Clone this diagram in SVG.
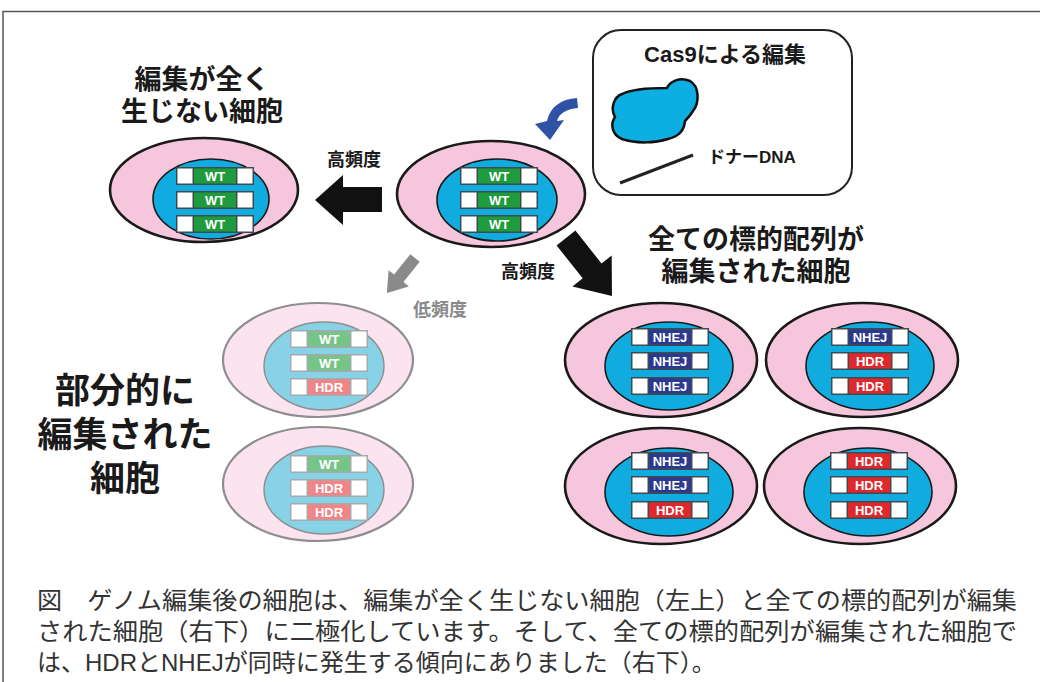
<svg xmlns="http://www.w3.org/2000/svg" xmlns:xlink="http://www.w3.org/1999/xlink" width="1040" height="682" viewBox="0 0 1040 682">
  <style>
    .frame{fill:none;stroke:#555;stroke-width:1.5}
    .outer{fill:#F6C6DC;stroke:#1a1a1a;stroke-width:2.6}
    .inner{fill:#10ACDF;stroke:#1a1a1a;stroke-width:1.6}
    .outer-f{fill:#FBE4EF;stroke:#8e8e8e;stroke-width:2.2}
    .inner-f{fill:#88D2E7;stroke:#8e8e8e;stroke-width:1.4}
    .rowbox{fill:#3e4b50}
    .rowbox-f{fill:#a3abae}
    .end{fill:#fff}
    .wt{fill:#1F9A3D}
    .wt-f{fill:#77C488}
    .hdr{fill:#E0282C}
    .hdr-f{fill:#EF8587}
    .nhej{fill:#2B3991}
    .tag{font-family:"Liberation Sans",Arial,sans-serif;font-weight:bold;font-size:13px;fill:#fff;text-anchor:middle}
    .head{font-family:"Liberation Sans","Noto Sans CJK JP",sans-serif;font-weight:bold;fill:#1a1a1a;text-anchor:middle}
    .small{font-family:"Liberation Sans","Noto Sans CJK JP",sans-serif;font-weight:bold;font-size:18px;text-anchor:middle}
    .caption{font-family:"Liberation Sans","Noto Sans CJK JP",sans-serif;font-size:24px;fill:#333}
  </style>
  <defs>
    <g id="row-wt">
      <rect class="rowbox" width="78" height="18"/>
      <rect class="end" x="1.5" y="1.5" width="15" height="15"/>
      <rect class="wt" x="18" y="1.5" width="42" height="15"/>
      <rect class="end" x="61.5" y="1.5" width="15" height="15"/>
      <text class="tag" x="39" y="14">WT</text>
    </g>
    <g id="row-wt-f">
      <rect class="rowbox-f" width="78" height="18"/>
      <rect class="end" x="1.5" y="1.5" width="15" height="15"/>
      <rect class="wt-f" x="18" y="1.5" width="42" height="15"/>
      <rect class="end" x="61.5" y="1.5" width="15" height="15"/>
      <text class="tag" x="39" y="14">WT</text>
    </g>
    <g id="row-hdr">
      <rect class="rowbox" width="78" height="18"/>
      <rect class="end" x="1.5" y="1.5" width="15" height="15"/>
      <rect class="hdr" x="18" y="1.5" width="42" height="15"/>
      <rect class="end" x="61.5" y="1.5" width="15" height="15"/>
      <text class="tag" x="39" y="14">HDR</text>
    </g>
    <g id="row-hdr-f">
      <rect class="rowbox-f" width="78" height="18"/>
      <rect class="end" x="1.5" y="1.5" width="15" height="15"/>
      <rect class="hdr-f" x="18" y="1.5" width="42" height="15"/>
      <rect class="end" x="61.5" y="1.5" width="15" height="15"/>
      <text class="tag" x="39" y="14">HDR</text>
    </g>
    <g id="row-nhej">
      <rect class="rowbox" width="78" height="18"/>
      <rect class="end" x="1.5" y="1.5" width="15" height="15"/>
      <rect class="nhej" x="18" y="1.5" width="42" height="15"/>
      <rect class="end" x="61.5" y="1.5" width="15" height="15"/>
      <text class="tag" x="39" y="14">NHEJ</text>
    </g>
  </defs>

  <!-- page frame -->
  <path class="frame" d="M3,682 V11.5 H1040"/>

  <!-- headings (multi-line, one text each) -->
  <text class="head" font-size="27" x="202" y="89">編集が全く<tspan x="202" dy="32">生じない細胞</tspan></text>
  <text class="head" font-size="27" x="756" y="249">全ての標的配列が<tspan x="756" dy="32">編集された細胞</tspan></text>
  <text class="head" font-size="35" x="125" y="403">部分的に<tspan x="125" dy="44">編集された</tspan><tspan x="125" dy="44">細胞</tspan></text>

  <!-- Cas9 legend -->
  <g id="legend">
    <rect x="593" y="30" width="259" height="165" rx="28" fill="#fff" stroke="#222" stroke-width="2"/>
    <text class="head" font-size="22" x="725" y="62">Cas9による編集</text>
    <path d="M615,117 C610,108 614,97 622,94 C632,89 652,88 667,88 C670,81 680,77 690,81 C699,86 700,102 693,111 C690,116 687,119 685,121 C684,130 680,136 668,139 C655,143 637,144 622,139 C612,135 610,124 615,117 Z" fill="#0DAEE2" stroke="#111" stroke-width="2.5"/>
    <line x1="620" y1="183" x2="693" y2="155" stroke="#222" stroke-width="3"/>
    <text x="708" y="163" font-family="Liberation Sans, Noto Sans CJK JP, sans-serif" font-weight="bold" font-size="17" fill="#1a1a1a">ドナーDNA</text>
  </g>

  <!-- cells -->
  <g id="cell-unedited">
    <ellipse class="outer" cx="204" cy="190" rx="94" ry="52"/>
    <ellipse class="inner" cx="211" cy="199" rx="58" ry="40"/>
    <use xlink:href="#row-wt" x="176" y="167"/>
    <use xlink:href="#row-wt" x="176" y="191"/>
    <use xlink:href="#row-wt" x="176" y="215"/>
  </g>
  <g id="cell-origin">
    <ellipse class="outer" cx="491" cy="194" rx="94" ry="53"/>
    <ellipse class="inner" cx="497" cy="200" rx="60" ry="41"/>
    <use xlink:href="#row-wt" x="460" y="167"/>
    <use xlink:href="#row-wt" x="460" y="191"/>
    <use xlink:href="#row-wt" x="460" y="215"/>
  </g>
  <g id="cell-partial-1">
    <ellipse class="outer-f" cx="318" cy="360" rx="95" ry="57"/>
    <ellipse class="inner-f" cx="324" cy="366" rx="60" ry="44"/>
    <use xlink:href="#row-wt-f" x="290" y="330"/>
    <use xlink:href="#row-wt-f" x="290" y="354"/>
    <use xlink:href="#row-hdr-f" x="290" y="378"/>
  </g>
  <g id="cell-partial-2">
    <ellipse class="outer-f" cx="318" cy="484" rx="95" ry="57"/>
    <ellipse class="inner-f" cx="324" cy="490" rx="60" ry="44"/>
    <use xlink:href="#row-wt-f" x="290" y="455"/>
    <use xlink:href="#row-hdr-f" x="290" y="479"/>
    <use xlink:href="#row-hdr-f" x="290" y="503"/>
  </g>
  <g id="cell-edited-1">
    <ellipse class="outer" cx="661" cy="360" rx="96" ry="57"/>
    <ellipse class="inner" cx="669" cy="366" rx="64" ry="44"/>
    <use xlink:href="#row-nhej" x="631" y="328"/>
    <use xlink:href="#row-nhej" x="631" y="352"/>
    <use xlink:href="#row-nhej" x="631" y="377"/>
  </g>
  <g id="cell-edited-2">
    <ellipse class="outer" cx="862" cy="360" rx="96" ry="57"/>
    <ellipse class="inner" cx="870" cy="366" rx="64" ry="44"/>
    <use xlink:href="#row-nhej" x="831" y="328"/>
    <use xlink:href="#row-hdr" x="831" y="352"/>
    <use xlink:href="#row-hdr" x="831" y="377"/>
  </g>
  <g id="cell-edited-3">
    <ellipse class="outer" cx="661" cy="486" rx="96" ry="58"/>
    <ellipse class="inner" cx="669" cy="492" rx="64" ry="44"/>
    <use xlink:href="#row-nhej" x="631" y="452"/>
    <use xlink:href="#row-nhej" x="631" y="476"/>
    <use xlink:href="#row-hdr" x="631" y="501"/>
  </g>
  <g id="cell-edited-4">
    <ellipse class="outer" cx="860" cy="486" rx="96" ry="58"/>
    <ellipse class="inner" cx="868" cy="492" rx="64" ry="44"/>
    <use xlink:href="#row-hdr" x="830" y="452"/>
    <use xlink:href="#row-hdr" x="830" y="476"/>
    <use xlink:href="#row-hdr" x="830" y="501"/>
  </g>

  <!-- connectors -->
  <g id="connectors">
    <!-- Cas9 entering the cell -->
    <path d="M577,98 C561,99 550,107 547,121 L535,124 L550,140 L564,120 L557,121 C559,113 567,109 578,108 Z" fill="#2E53A6"/>
    <!-- no editing, high frequency -->
    <polygon points="315,200 343,175 343,187 382,187 382,212 343,212 343,225" fill="#111"/>
    <text class="small" x="354" y="166" fill="#1a1a1a">高頻度</text>
    <!-- all targets edited, high frequency -->
    <polygon points="0,-12 42,-12 42,-25 74,0 42,25 42,12 0,12" fill="#111" transform="translate(566,238) rotate(51.6)"/>
    <text class="small" x="528" y="278" fill="#1a1a1a">高頻度</text>
    <!-- partial editing, low frequency -->
    <polygon points="0,-6 26,-6 26,-13 45,0 26,13 26,6 0,6" fill="#8a8a8a" transform="translate(415,258) rotate(128.7)"/>
    <text class="small" x="440" y="316" fill="#8a8a8a">低頻度</text>
  </g>

  <!-- caption -->
  <text class="caption" x="37" y="609" textLength="980" lengthAdjust="spacingAndGlyphs">図　ゲノム編集後の細胞は、編集が全く生じない細胞（左上）と全ての標的配列が編集</text>
  <text class="caption" x="37" y="640" textLength="980" lengthAdjust="spacingAndGlyphs">された細胞（右下）に二極化しています。そして、全ての標的配列が編集された細胞で</text>
  <text class="caption" x="37" y="671">は、HDRとNHEJが同時に発生する傾向にありました（右下）。</text>
</svg>
